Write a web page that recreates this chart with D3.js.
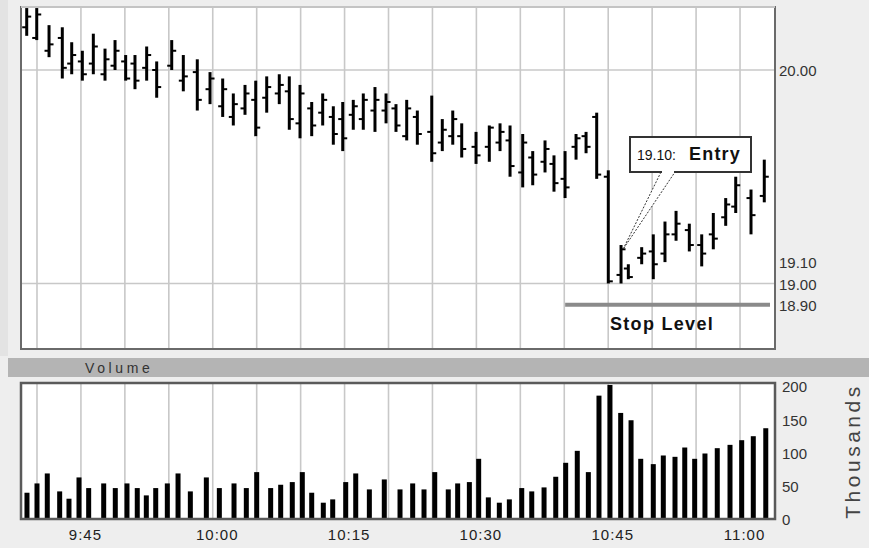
<!DOCTYPE html>
<html>
<head>
<meta charset="utf-8">
<script src="https://cdn.jsdelivr.net/npm/d3@7"></script>
<style>
  body { margin: 0; background: #eeeeee; }
  svg { display: block; font-family: "Liberation Sans", Arial, sans-serif; }
</style>
</head>
<body>
<div id="chart"></div>
<script>
// Bar times, minutes after 9:30
var priceMin = [8.83, 9.97, 11.37, 12.88, 13.95, 15.16, 16.41, 17.74, 18.88, 20.09, 21.15, 22.48, 23.62, 25.33, 26.65, 28.24, 29.69, 31.13, 32.34, 33.67, 34.89, 36.14, 37.57, 38.71, 39.93, 41.26, 42.51, 43.72, 44.79, 45.99, 47.13, 48.46, 49.72, 50.85, 52.07, 53.28, 54.92, 56.12, 57.31, 58.33, 59.96, 61.47, 62.69, 63.83, 65.27, 66.41, 67.81, 68.83, 70.09, 71.34, 72.48, 73.69, 75.01, 76.46, 77.29, 78.81, 80.13, 81.46, 82.72, 84.23, 85.64, 86.96, 88.37, 89.51, 91.25, 92.76];
var opens  = [20.20, 20.15, 20.09, 20.15, 20.03, 20.04, 20.03, 19.98, 20.02, 20.04, 20.03, 20.01, 20.00, 20.02, 19.95, 19.99, 19.91, 19.83, 19.78, 19.82, 19.86, 19.87, 19.89, 19.90, 19.75, 19.82, 19.80, 19.78, 19.77, 19.79, 19.77, 19.81, 19.81, 19.82, 19.69, 19.78, 19.71, 19.66, 19.69, 19.69, 19.64, 19.64, 19.66, 19.67, 19.52, 19.59, 19.57, 19.56, 19.49, 19.64, 19.69, 19.78, 19.50, 19.04, 19.07, 19.12, 19.15, 19.14, 19.23, 19.25, 19.18, 19.23, 19.31, 19.36, 19.40, 19.41];
var highs  = [20.29, 20.29, 20.21, 20.20, 20.13, 20.09, 20.17, 20.10, 20.14, 20.07, 20.07, 20.11, 20.04, 20.14, 20.07, 20.05, 19.99, 19.96, 19.89, 19.93, 19.95, 19.97, 19.98, 19.97, 19.93, 19.85, 19.89, 19.83, 19.85, 19.86, 19.89, 19.92, 19.89, 19.84, 19.86, 19.81, 19.88, 19.77, 19.81, 19.75, 19.71, 19.74, 19.75, 19.74, 19.70, 19.62, 19.67, 19.60, 19.62, 19.70, 19.71, 19.80, 19.53, 19.18, 19.09, 19.17, 19.23, 19.29, 19.34, 19.28, 19.23, 19.33, 19.40, 19.50, 19.44, 19.58];
var lows   = [20.16, 20.14, 20.06, 19.96, 19.98, 19.95, 19.98, 19.95, 20.00, 19.95, 19.91, 19.95, 19.87, 20.00, 19.90, 19.81, 19.84, 19.78, 19.74, 19.79, 19.69, 19.80, 19.84, 19.72, 19.68, 19.69, 19.74, 19.65, 19.62, 19.72, 19.72, 19.71, 19.75, 19.71, 19.67, 19.65, 19.57, 19.62, 19.65, 19.59, 19.56, 19.57, 19.62, 19.50, 19.45, 19.46, 19.52, 19.43, 19.40, 19.58, 19.61, 19.49, 19.00, 19.00, 19.02, 19.09, 19.02, 19.10, 19.20, 19.15, 19.08, 19.16, 19.27, 19.33, 19.23, 19.38];
var closes = [20.25, 20.26, 20.12, 20.01, 20.07, 19.98, 20.11, 20.05, 20.09, 19.96, 19.95, 20.07, 19.92, 20.09, 19.97, 19.86, 19.96, 19.91, 19.84, 19.89, 19.73, 19.92, 19.93, 19.77, 19.89, 19.74, 19.86, 19.70, 19.68, 19.83, 19.86, 19.86, 19.85, 19.74, 19.82, 19.70, 19.61, 19.72, 19.77, 19.63, 19.60, 19.73, 19.71, 19.55, 19.66, 19.51, 19.63, 19.47, 19.45, 19.68, 19.64, 19.51, 19.01, 19.16, 19.03, 19.14, 19.09, 19.23, 19.28, 19.18, 19.14, 19.21, 19.37, 19.46, 19.32, 19.50];

var volMin = [8.86, 10.0, 11.17, 12.58, 13.64, 14.78, 15.88, 17.59, 18.91, 20.24, 21.41, 22.44, 23.51, 24.83, 26.05, 27.45, 29.27, 30.75, 32.42, 33.82, 35.0, 36.59, 37.73, 39.05, 40.19, 41.26, 42.58, 43.65, 45.13, 46.27, 47.82, 49.52, 51.31, 52.75, 54.04, 55.26, 56.8, 57.87, 59.2, 60.26, 61.36, 62.61, 63.75, 65.16, 66.3, 67.7, 69.03, 70.16, 71.48, 72.74, 73.95, 75.2, 76.42, 77.6, 78.7, 80.13, 81.27, 82.6, 83.71, 84.84, 86.01, 87.41, 88.86, 90.19, 91.51, 92.93];
var volumes = [38, 52, 67, 40, 29, 61, 45, 52, 45, 52, 45, 34, 45, 52, 67, 40, 61, 45, 52, 45, 69, 45, 50, 54, 69, 38, 23, 28, 54, 67, 43, 58, 43, 52, 43, 69, 43, 52, 54, 89, 31, 23, 28, 45, 40, 46, 62, 83, 101, 69, 184, 200, 158, 147, 89, 81, 94, 92, 106, 89, 97, 105, 110, 117, 123, 135];

// Axis ticks
var timeTicks = [15, 30, 45, 60, 75, 90];
var timeLabels = ["9:45", "10:00", "10:15", "10:30", "10:45", "11:00"];
var gridMin = [10, 15, 20, 25, 30, 35, 40, 45, 50, 55, 60, 65, 70, 75, 80, 85, 90];
var priceGrid = [20.00, 19.00];
var priceLabels = [20.00, 19.10, 19.00, 18.90];
var volTicks = [0, 50, 100, 150, 200];

// Annotations
var entryIndex = 53;
var stopLevel = 18.90;
var stopStart = 70.1;

var w = 869, h = 548;
var main = {left: 21, top: 7, right: 775, bottom: 349};
var vol = {left: 21, top: 383, right: 775, bottom: 519};

var x = d3.scaleLinear().domain([8.18, 93.98]).range([main.left, main.right]);
var y = d3.scaleLinear().domain([18.693, 20.295]).range([main.bottom, main.top]);
var yv = d3.scaleLinear().domain([0, 200]).range([518, 385]);

var svg = d3.select("#chart")
  .append("svg")
  .attr("width", w)
  .attr("height", h);

svg.append("rect").attr("width", w).attr("height", h).attr("fill", "#eeeeee");
svg.append("rect").attr("width", 8).attr("height", 356).attr("fill", "#e3e3e3");

//Panels
svg.append("rect")
  .attr("x", main.left).attr("y", main.top)
  .attr("width", main.right - main.left).attr("height", main.bottom - main.top)
  .attr("fill", "white");
svg.append("rect")
  .attr("x", vol.left).attr("y", vol.top)
  .attr("width", vol.right - vol.left).attr("height", vol.bottom - vol.top)
  .attr("fill", "white");

//Vertical gridlines in both panels
[main, vol].forEach(function(p) {
  svg.append("g").selectAll("line")
    .data(gridMin)
    .enter()
    .append("line")
    .attr("x1", function(d) { return x(d); })
    .attr("x2", function(d) { return x(d); })
    .attr("y1", p.top)
    .attr("y2", p.bottom)
    .attr("stroke", "#c8c8c8")
    .attr("stroke-width", 1.6);
});

//Horizontal price gridlines
svg.append("g").selectAll("line")
  .data(priceGrid)
  .enter()
  .append("line")
  .attr("x1", main.left)
  .attr("x2", main.right)
  .attr("y1", function(d) { return y(d); })
  .attr("y2", function(d) { return y(d); })
  .attr("stroke", "#c8c8c8")
  .attr("stroke-width", 1.6);

//Price bars (high-low with open/close ticks)
var bars = svg.append("g").selectAll("g")
  .data(priceMin)
  .enter()
  .append("g");

bars.append("line")
  .attr("x1", function(d) { return x(d); })
  .attr("x2", function(d) { return x(d); })
  .attr("y1", function(d, i) { return y(highs[i]); })
  .attr("y2", function(d, i) { return y(lows[i]); })
  .attr("stroke", "black")
  .attr("stroke-width", 3);
bars.append("line")
  .attr("x1", function(d) { return x(d) - 4.5; })
  .attr("x2", function(d) { return x(d); })
  .attr("y1", function(d, i) { return y(opens[i]); })
  .attr("y2", function(d, i) { return y(opens[i]); })
  .attr("stroke", "black")
  .attr("stroke-width", 2);
bars.append("line")
  .attr("x1", function(d) { return x(d); })
  .attr("x2", function(d) { return x(d) + 4.5; })
  .attr("y1", function(d, i) { return y(closes[i]); })
  .attr("y2", function(d, i) { return y(closes[i]); })
  .attr("stroke", "black")
  .attr("stroke-width", 2);

//Volume bars
svg.append("g").selectAll("rect")
  .data(volumes)
  .enter()
  .append("rect")
  .attr("x", function(d, i) { return x(volMin[i]) - 2.5; })
  .attr("y", function(d) { return yv(d); })
  .attr("width", 5)
  .attr("height", function(d) { return yv(0) - yv(d); })
  .attr("fill", "black");

//Panel borders
svg.append("rect")
  .attr("x", main.left).attr("y", main.top)
  .attr("width", main.right - main.left).attr("height", main.bottom - main.top)
  .attr("fill", "none").attr("stroke", "#6a6a6a").attr("stroke-width", 2);
svg.append("line")
  .attr("x1", main.left).attr("x2", main.right)
  .attr("y1", main.top).attr("y2", main.top)
  .attr("stroke", "#c4c4c4").attr("stroke-width", 2);
svg.append("rect")
  .attr("x", vol.left).attr("y", vol.top)
  .attr("width", vol.right - vol.left).attr("height", vol.bottom - vol.top)
  .attr("fill", "none").attr("stroke", "#5a5a5a").attr("stroke-width", 2.5);

//Volume title band
svg.append("rect")
  .attr("x", 8).attr("y", 358)
  .attr("width", w - 8).attr("height", 19)
  .attr("fill", "#b4b4b4");
svg.append("text")
  .attr("x", 85).attr("y", 373)
  .attr("font-size", "14px")
  .attr("letter-spacing", "3.6px")
  .attr("fill", "#333")
  .text("Volume");

//Price axis on the right
var yAxis = svg.append("g")
  .attr("transform", "translate(" + main.right + ",1)")
  .call(d3.axisRight(y).tickValues(priceLabels).tickFormat(d3.format(".2f")).tickSize(0).tickPadding(4));
yAxis.select(".domain").remove();
yAxis.selectAll("text").attr("font-size", "15px").attr("font-family", "Liberation Sans, Arial, sans-serif").attr("fill", "#333");

//Volume axis on the right
var vAxis = svg.append("g")
  .attr("transform", "translate(" + vol.right + ",2)")
  .call(d3.axisRight(yv).tickValues(volTicks).tickSize(0).tickPadding(7));
vAxis.select(".domain").remove();
vAxis.selectAll("text").attr("font-size", "15px").attr("font-family", "Liberation Sans, Arial, sans-serif").attr("fill", "#333");

svg.append("text")
  .attr("transform", "translate(860,451) rotate(-90)")
  .attr("text-anchor", "middle")
  .attr("font-size", "21px")
  .attr("letter-spacing", "3.5px")
  .attr("fill", "#444")
  .text("Thousands");

//Time axis
var xAxis = svg.append("g")
  .attr("transform", "translate(4," + vol.bottom + ")")
  .call(d3.axisBottom(x).tickValues(timeTicks).tickFormat(function(d, i) { return timeLabels[i]; }).tickSize(0).tickPadding(10));
xAxis.select(".domain").remove();
xAxis.selectAll("text").attr("font-size", "15px").attr("letter-spacing", "1px").attr("font-family", "Liberation Sans, Arial, sans-serif").attr("fill", "#222");

//Stop level line and label
var stopY = y(stopLevel);
svg.append("line")
  .attr("x1", x(stopStart)).attr("x2", main.right - 5)
  .attr("y1", stopY).attr("y2", stopY)
  .attr("stroke", "#8a8a8a")
  .attr("stroke-width", 4);
svg.append("text")
  .attr("x", 662).attr("y", stopY + 25)
  .attr("text-anchor", "middle")
  .attr("font-size", "18px")
  .attr("font-weight", "bold")
  .attr("letter-spacing", "1.3px")
  .attr("fill", "#111")
  .text("Stop Level");

//Entry callout
var tipX = x(priceMin[entryIndex]) + 2;
var tipY = y(closes[entryIndex]);
svg.append("path")
  .attr("d", "M661,172 L" + tipX + "," + tipY + " L675,172 Z")
  .attr("fill", "white")
  .attr("stroke", "#333")
  .attr("stroke-width", 1)
  .attr("stroke-dasharray", "2,1.5");
svg.append("rect")
  .attr("x", 630).attr("y", 137)
  .attr("width", 121).attr("height", 35)
  .attr("fill", "white")
  .attr("stroke", "#333")
  .attr("stroke-width", 2);
svg.append("line")
  .attr("x1", 662).attr("x2", 674)
  .attr("y1", 172).attr("y2", 172)
  .attr("stroke", "white")
  .attr("stroke-width", 2.5);
svg.append("text")
  .attr("x", 637).attr("y", 160)
  .attr("font-size", "14px")
  .attr("fill", "#111")
  .text("19.10:");
svg.append("text")
  .attr("x", 689).attr("y", 160)
  .attr("font-size", "18px")
  .attr("font-weight", "bold")
  .attr("letter-spacing", "1.2px")
  .attr("fill", "#111")
  .text("Entry");
</script>
</body>
</html>
